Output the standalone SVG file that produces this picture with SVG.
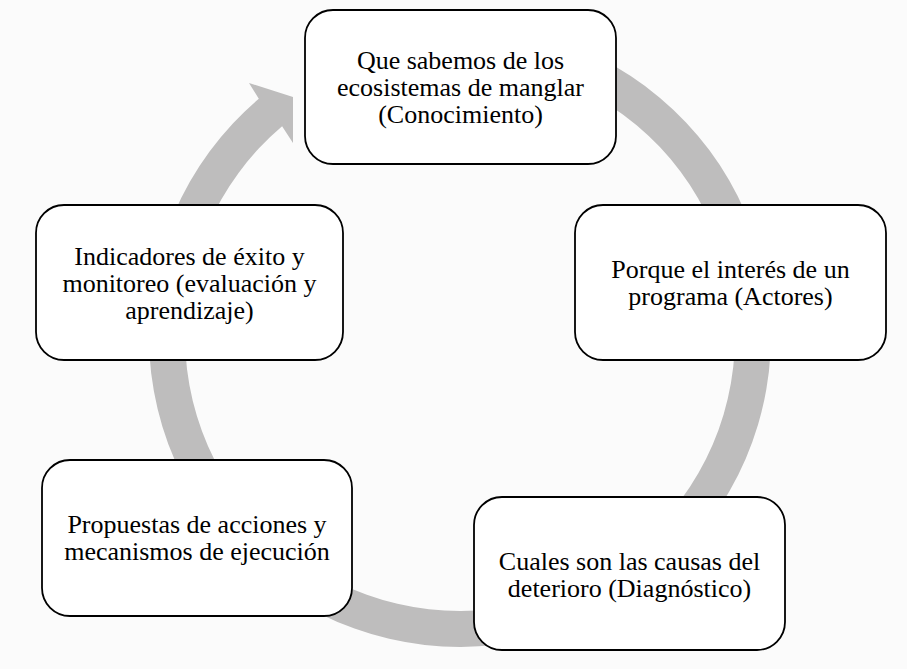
<svg xmlns="http://www.w3.org/2000/svg" width="907" height="669" viewBox="0 0 907 669">
<style>
.box{fill:#ffffff;stroke:#000000;stroke-width:1.8}
.t{font-size:26px;fill:#000000;text-anchor:middle}
.ring{fill:#bebdbd;stroke:none}
</style>
<rect x="0" y="0" width="907" height="669" fill="#fbfbfb"/>
<g id="connectors">
<path class="ring" d="M 460 25 A 311 311 0 1 1 258.8 98.8 L 249 83 L 293 97 L 293 143 L 282.1 126.3 A 275 275 0 1 0 460 61 Z"/>
</g>
<g font-family="Liberation Serif, Times New Roman, DejaVu Serif, serif">
<g id="node-conocimiento">
<rect class="box" x="305" y="10" width="311" height="154" rx="28" ry="28"/>
<text class="t" x="460.5" y="69">Que sabemos de los</text>
<text class="t" x="460.5" y="96">ecosistemas de manglar</text>
<text class="t" x="460.5" y="123">(Conocimiento)</text>
</g>
<g id="node-actores">
<rect class="box" x="575" y="205" width="311" height="155" rx="28" ry="28"/>
<text class="t" x="730.5" y="278">Porque el interés de un</text>
<text class="t" x="730.5" y="305">programa (Actores)</text>
</g>
<g id="node-diagnostico">
<rect class="box" x="474" y="497" width="311" height="153" rx="28" ry="28"/>
<text class="t" x="629.5" y="570">Cuales son las causas del</text>
<text class="t" x="629.5" y="597">deterioro (Diagnóstico)</text>
</g>
<g id="node-propuestas">
<rect class="box" x="42" y="460" width="310" height="156" rx="28" ry="28"/>
<text class="t" x="197" y="533">Propuestas de acciones y</text>
<text class="t" x="197" y="560">mecanismos de ejecución</text>
</g>
<g id="node-indicadores">
<rect class="box" x="36" y="205" width="307" height="155" rx="28" ry="28"/>
<text class="t" x="189.5" y="265">Indicadores de éxito y</text>
<text class="t" x="189.5" y="292">monitoreo (evaluación y</text>
<text class="t" x="189.5" y="319">aprendizaje)</text>
</g>
</g>
</svg>
